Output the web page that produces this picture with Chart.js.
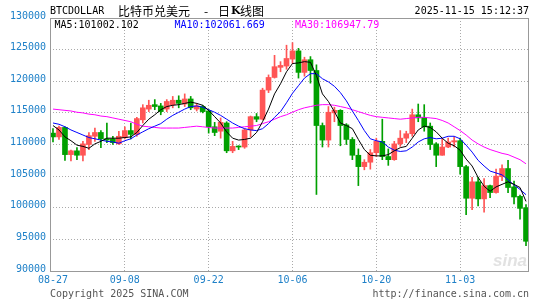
<!DOCTYPE html>
<html>
<head>
<meta charset="utf-8">
<style>
  html, body { margin: 0; padding: 0; background: #fff; }
  #wrap { width: 545px; height: 300px; }
</style>
<script src="https://cdn.jsdelivr.net/npm/chart.js@4.4.1/dist/chart.umd.min.js"></script>
</head>
<body>
<div id="wrap"><canvas id="chart" width="545" height="300"></canvas></div>
<script>
// daily candles, 08-27 .. 11-14
const dates = [
  "08-27","08-28","08-29","08-30","08-31",
  "09-01","09-02","09-03","09-04","09-05","09-06","09-07","09-08","09-09","09-10",
  "09-11","09-12","09-13","09-14","09-15","09-16","09-17","09-18","09-19","09-20",
  "09-21","09-22","09-23","09-24","09-25","09-26","09-27","09-28","09-29","09-30",
  "10-01","10-02","10-03","10-04","10-05","10-06","10-07","10-08","10-09","10-10",
  "10-11","10-12","10-13","10-14","10-15","10-16","10-17","10-18","10-19","10-20",
  "10-21","10-22","10-23","10-24","10-25","10-26","10-27","10-28","10-29","10-30",
  "10-31","11-01","11-02","11-03","11-04","11-05","11-06","11-07","11-08","11-09",
  "11-10","11-11","11-12","11-13","11-14"
];

const opens = [
  111800, 111200, 112700, 108400, 109000, 108300, 110000, 111300, 111900, 110900,
  110900, 110100, 111100, 112200, 111600, 113900, 115600, 116300, 116100, 115600,
  116300, 117000, 116400, 117200, 115600, 116000, 115300, 112800, 112100, 113400,
  109000, 109700, 109600, 112300, 114400, 114000, 118600, 120600, 122200, 122400,
  123500, 124800, 121400, 123400, 121700, 113000, 110700, 115000, 115400, 113100,
  110800, 108300, 106500, 107200, 108700, 110500, 108100, 107600, 110100, 111000,
  111700, 114700, 114300, 112900, 110100, 108300, 109600, 110400, 110600, 106500,
  101500, 104100, 101400, 103500, 102400, 104900, 106200, 103300, 101800, 100000
];
const highs = [
  112500, 112900, 112800, 109100, 109500, 110500, 111900, 112600, 112200, 113400,
  111300, 112100, 112800, 113400, 114300, 116300, 117000, 117100, 116500, 117100,
  117600, 117700, 118000, 117600, 116500, 116200, 115500, 113500, 114200, 113600,
  110500, 109800, 112500, 114500, 114900, 118900, 121000, 124100, 123100, 125700,
  126100, 125200, 123800, 123900, 122600, 113400, 116000, 115900, 115500, 113300,
  111100, 109300, 107600, 109200, 111000, 114000, 109300, 110500, 112200, 112100,
  115600, 116400, 116300, 113400, 110300, 110900, 111000, 111200, 111000, 106700,
  104800, 104800, 104600, 103600, 106100, 106800, 107500, 104200, 102000, 100500
];
const lows = [
  110400, 110800, 107500, 107400, 107600, 107400, 109200, 110500, 109500, 110300,
  110000, 110000, 110900, 110900, 111300, 113400, 115200, 115500, 114700, 115200,
  115800, 115800, 116000, 115500, 115300, 115000, 111800, 111400, 111000, 108700,
  108700, 109200, 109400, 111200, 113600, 113900, 118200, 120500, 121500, 121900,
  122800, 120500, 120800, 119700, 102100, 109600, 109600, 113600, 109800, 110000,
  107600, 103500, 106000, 106100, 108100, 107600, 106700, 107500, 109700, 110300,
  111300, 113600, 112100, 109200, 106500, 108300, 109500, 109600, 105300, 98900,
  99700, 100300, 99300, 101600, 102300, 104300, 102400, 100600, 98200, 94000
];
const closes = [
  111200, 112700, 108400, 109000, 108300, 110100, 111400, 111900, 110900, 110700,
  110300, 111300, 112200, 111600, 114100, 115800, 116200, 116000, 115200, 116800,
  117000, 116500, 117200, 115800, 116100, 115200, 112800, 111900, 113500, 109000,
  109700, 109600, 112300, 114400, 114000, 118600, 120600, 122300, 122500, 123600,
  124800, 121400, 123400, 121700, 113000, 110700, 115100, 115400, 113000, 110800,
  108300, 106500, 107200, 108700, 110500, 108100, 107600, 110100, 111000, 111700,
  114700, 114200, 112800, 110000, 108300, 109600, 110400, 110600, 106500, 101500,
  104100, 101400, 103500, 102400, 105000, 106200, 103200, 101700, 99900, 94700
];

// moving average lines
const ma5 = [
  113000, 112300, 111200, 110600, 109900, 109700, 109400, 110100, 110500, 111000,
  111000, 111000, 111100, 111200, 111900, 113000, 114000, 114700, 115500, 116000,
  116200, 116300, 116500, 116700, 116500, 116200, 115400, 114400, 113400, 112000,
  111000, 110700, 110800, 111000, 111900, 113600, 115600, 118000, 119600, 121500,
  122800, 122900, 123100, 123000, 120900, 118000, 116800, 115200, 113400, 113000,
  112500, 110800, 109200, 108300, 108200, 108200, 108400, 109000, 109500, 109700,
  111000, 112300, 112900, 112700, 112000, 111000, 110200, 109800, 109100, 107700,
  106600, 104800, 103400, 102600, 103300, 103700, 104100, 103700, 103200, 101002
];
const ma10 = [
  113400, 113200, 112800, 112300, 111900, 111500, 111100, 110900, 110700, 110500,
  110400, 110200, 110600, 110900, 111500, 112000, 112500, 112900, 113300, 114000,
  114600, 115100, 115600, 116000, 116100, 115900, 115500, 115100, 114600, 114000,
  113400, 112900, 112500, 112300, 112200, 112500, 113300, 114300, 115200, 116600,
  118100, 119300, 120500, 121200, 121200, 120400, 119900, 119200, 118200, 116900,
  115300, 113800, 112200, 110900, 110600, 110400, 109600, 109100, 108900, 109000,
  109600, 110400, 110900, 111100, 110900, 111000, 111300, 111300, 110900, 109900,
  108800, 107500, 106600, 105800, 105500, 105200, 104400, 103600, 102900, 102062
];
const ma30 = [
  115600, 115500, 115400, 115300, 115100, 115000, 114800, 114700, 114500, 114400,
  114200, 114000, 113800, 113600, 113200, 112900, 112800, 112700, 112600, 112600,
  112600, 112600, 112700, 112800, 112900, 112800, 112700, 112600, 112600, 112600,
  112600, 112700, 112800, 112900, 113000, 113300, 113600, 114000, 114400, 114700,
  115100, 115500, 115800, 116000, 116200, 116300, 116300, 116200, 116000, 115800,
  115500, 115200, 114900, 114600, 114400, 114300, 114200, 114100, 114000, 114100,
  114200, 114300, 114300, 114200, 114100, 113800, 113400, 112800, 112200, 111500,
  110700, 110100, 109600, 109200, 108900, 108600, 108400, 108000, 107600, 106948
];

const legendTexts = ["MA5:101002.102", "MA10:102061.669", "MA30:106947.79"];

const yMin = 90000, yMax = 130000, yStep = 5000;
const labelDates = ["08-27", "09-08", "09-22", "10-06", "10-20", "11-03"];

const upColor = "#ff5555";
const downColor = "#00a000";
const tickBlue = "#1e80c8";
const gridGray = "#aaaaaa";
const mono = "'DejaVu Sans Mono', monospace";

const candleColors = closes.map((c, i) => c >= opens[i] ? upColor : downColor);

// title, legend row, footer and frame
const decorations = {
  id: "decorations",
  beforeDatasetsDraw(chart) {
    const ctx = chart.ctx;
    ctx.save();
    ctx.fillStyle = "#e2e2e2";
    ctx.font = "italic bold 17px 'Liberation Sans', sans-serif";
    ctx.textAlign = "right";
    ctx.textBaseline = "alphabetic";
    ctx.fillText("sina", 527, 266);
    ctx.restore();
  },
  afterDraw(chart) {
    const ctx = chart.ctx;
    const a = chart.chartArea;
    ctx.save();
    ctx.strokeStyle = "#999999";
    ctx.lineWidth = 1;
    ctx.strokeRect(Math.round(a.left) + 0.5, Math.round(a.top) + 0.5,
      Math.round(a.right - a.left) - 1, Math.round(a.bottom - a.top));

    ctx.textBaseline = "middle";
    ctx.fillStyle = "#000";
    ctx.font = "10px " + mono;
    ctx.fillText("BTCDOLLAR", 50, 11.5);
    ctx.font = "12px 'Noto Sans CJK SC'";
    ctx.fillText("比特币兑美元", 118, 11.5);
    ctx.fillText("-", 204, 11.5);
    ctx.fillText("日", 218, 11.5);
    ctx.font = "bold 11px 'DejaVu Serif', serif";
    ctx.fillText("K", 231, 11.5);
    ctx.font = "12px 'Noto Sans CJK SC'";
    ctx.fillText("线图", 240, 11.5);
    ctx.font = "10px " + mono;
    ctx.textAlign = "right";
    ctx.fillText("2025-11-15 15:12:37", 529, 11.5);

    ctx.textAlign = "left";
    ctx.fillStyle = "#000";
    ctx.fillText(legendTexts[0], 54.5, 25);
    ctx.fillStyle = "#0000ff";
    ctx.fillText(legendTexts[1], 174.5, 25);
    ctx.fillStyle = "#ff00ff";
    ctx.fillText(legendTexts[2], 295, 25);

    ctx.fillStyle = "#555555";
    ctx.fillText("Copyright 2025 SINA.COM", 50, 294);
    ctx.textAlign = "right";
    ctx.fillText("http://finance.sina.com.cn", 529, 294);
    ctx.restore();
  }
};

new Chart(document.getElementById("chart"), {
  type: "bar",
  data: {
    labels: dates,
    datasets: [
      { type: "line", label: "MA5", data: ma5, borderColor: "#000000", borderWidth: 1,
        pointRadius: 0, tension: 0, order: 0 },
      { type: "line", label: "MA10", data: ma10, borderColor: "#0000ff", borderWidth: 1,
        pointRadius: 0, tension: 0, order: 0 },
      { type: "line", label: "MA30", data: ma30, borderColor: "#ff00ff", borderWidth: 1,
        pointRadius: 0, tension: 0, order: 0 },
      { label: "body", data: opens.map((o, i) => [o, closes[i]]),
        backgroundColor: candleColors, barThickness: 5, minBarLength: 1,
        grouped: false, order: 2 },
      { label: "wick", data: lows.map((l, i) => [l, highs[i]]),
        backgroundColor: candleColors, barThickness: 1,
        grouped: false, order: 3 }
    ]
  },
  options: {
    responsive: false,
    animation: false,
    devicePixelRatio: 1,
    layout: { padding: { left: 0, right: 16, top: 18, bottom: 0 } },
    plugins: { legend: { display: false }, tooltip: { enabled: false } },
    scales: {
      x: {
        offset: true,
        grid: {
          offset: false,
          drawTicks: false,
          color: (c) => {
            const lab = dates[c.index];
            return (labelDates.includes(lab) && c.index > 0) ? gridGray : "transparent";
          }
        },
        border: { display: false, dash: [1, 2] },
        ticks: {
          autoSkip: false,
          maxRotation: 0,
          padding: 3,
          color: tickBlue,
          font: { family: mono, size: 10 },
          callback: (v, i) => labelDates.includes(dates[i]) ? dates[i] : ""
        },
        afterFit: (s) => { s.height = 29; }
      },
      y: {
        min: yMin,
        max: yMax,
        grid: {
          drawTicks: false,
          color: (c) => (c.tick && (c.tick.value === yMin || c.tick.value === yMax)) ? "transparent" : gridGray
        },
        border: { display: false, dash: [1, 2] },
        ticks: {
          stepSize: yStep,
          padding: 4,
          labelOffset: -2,
          color: tickBlue,
          font: { family: mono, size: 10 },
          callback: (v) => String(v)
        },
        afterFit: (s) => { s.width = 50; }
      }
    }
  },
  plugins: [decorations]
});
</script>
</body>
</html>
